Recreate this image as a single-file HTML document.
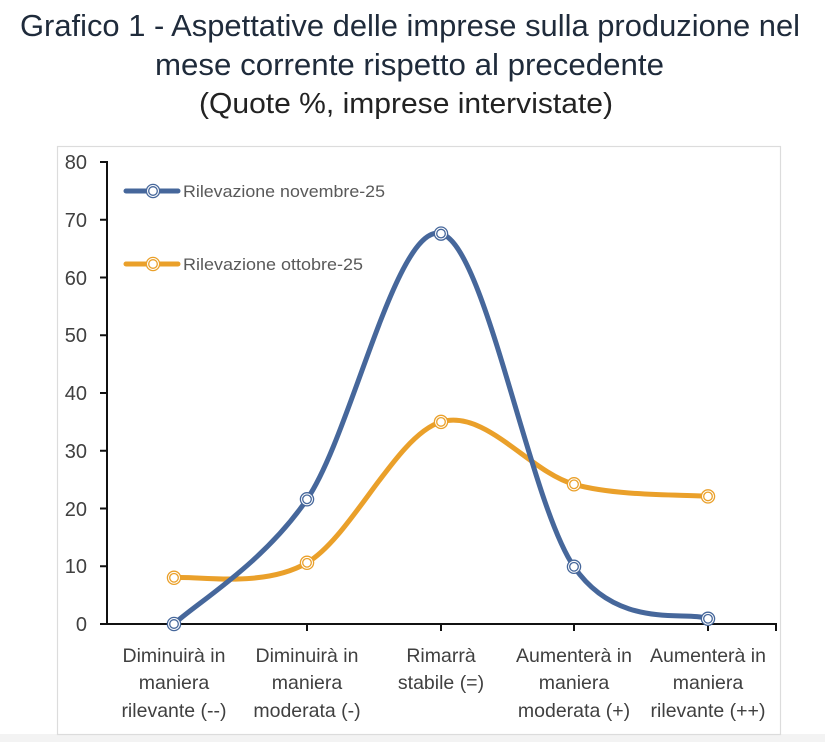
<!DOCTYPE html>
<html>
<head>
<meta charset="utf-8">
<style>
  html, body { margin:0; padding:0; background:#ffffff; }
  svg { display:block; }
  text { font-family: "Liberation Sans", sans-serif; }
</style>
</head>
<body>
<svg width="825" height="742" viewBox="0 0 825 742" xmlns="http://www.w3.org/2000/svg">
  <rect x="0" y="0" width="825" height="742" fill="#ffffff"/>
  <rect x="0" y="734" width="825" height="8" fill="#f3f3f3"/>

  <!-- Title -->
  <text x="20" y="36" font-size="31" fill="#1f2b3b" textLength="780" lengthAdjust="spacingAndGlyphs">Grafico 1 - Aspettative delle imprese sulla produzione nel</text>
  <text x="155" y="75" font-size="31" fill="#1f2b3b" textLength="509" lengthAdjust="spacingAndGlyphs">mese corrente rispetto al precedente</text>
  <text x="199" y="113" font-size="29" fill="#222222" textLength="414" lengthAdjust="spacingAndGlyphs">(Quote %, imprese intervistate)</text>

  <!-- Chart frame -->
  <rect x="57.5" y="146.5" width="723" height="588" fill="#ffffff" stroke="#dcdcdc" stroke-width="1.2"/>

  <!-- Y axis labels -->
  <g font-size="20" fill="#404040" text-anchor="end">
    <text x="87" y="169">80</text>
    <text x="87" y="227">70</text>
    <text x="87" y="285">60</text>
    <text x="87" y="342">50</text>
    <text x="87" y="400">40</text>
    <text x="87" y="458">30</text>
    <text x="87" y="516">20</text>
    <text x="87" y="573">10</text>
    <text x="87" y="631">0</text>
  </g>

  <!-- Axes -->
  <g stroke="#111111" stroke-width="2" fill="none">
    <line x1="107" y1="161" x2="107" y2="625"/>
    <line x1="100" y1="162" x2="107" y2="162"/>
    <line x1="100" y1="219.75" x2="107" y2="219.75"/>
    <line x1="100" y1="277.5" x2="107" y2="277.5"/>
    <line x1="100" y1="335.25" x2="107" y2="335.25"/>
    <line x1="100" y1="393" x2="107" y2="393"/>
    <line x1="100" y1="450.75" x2="107" y2="450.75"/>
    <line x1="100" y1="508.5" x2="107" y2="508.5"/>
    <line x1="100" y1="566.25" x2="107" y2="566.25"/>
    <line x1="100" y1="624" x2="776" y2="624"/>
    <line x1="174" y1="624" x2="174" y2="631"/>
    <line x1="307" y1="624" x2="307" y2="631"/>
    <line x1="441" y1="624" x2="441" y2="631"/>
    <line x1="574" y1="624" x2="574" y2="631"/>
    <line x1="708" y1="624" x2="708" y2="631"/>
    <line x1="776" y1="623" x2="776" y2="631"/>
  </g>

  <!-- X labels -->
  <g font-size="19.5" fill="#404040" text-anchor="middle">
    <text x="174" y="662">Diminuirà in</text>
    <text x="174" y="689">maniera</text>
    <text x="174" y="717">rilevante (--)</text>

    <text x="307" y="662">Diminuirà in</text>
    <text x="307" y="689">maniera</text>
    <text x="307" y="717">moderata (-)</text>

    <text x="441" y="662">Rimarrà</text>
    <text x="441" y="689">stabile (=)</text>

    <text x="574" y="662">Aumenterà in</text>
    <text x="574" y="689">maniera</text>
    <text x="574" y="717">moderata (+)</text>

    <text x="708" y="662">Aumenterà in</text>
    <text x="708" y="689">maniera</text>
    <text x="708" y="717">rilevante (++)</text>
  </g>

  <!-- Series: ottobre (orange) -->
  <path d="M174,577.8 C196.2,575.3 262.5,588.8 307,562.8 C351.5,536.8 396.5,435.0 441,421.9 C485.5,408.8 529.5,471.9 574,484.3 C618.5,496.7 685.7,494.4 708,496.4"
        fill="none" stroke="#eaa02a" stroke-width="5" stroke-linecap="round" stroke-linejoin="round"/>
  <!-- Series: novembre (blue) -->
  <path d="M174,624 C196.2,603.2 262.5,564.4 307,499.3 C351.5,434.2 396.5,222.35 441,233.6 C485.5,244.85 529.5,502.6 574,566.8 C618.5,631.0 685.7,610.1 708,618.8"
        fill="none" stroke="#46679b" stroke-width="5" stroke-linecap="round" stroke-linejoin="round"/>

  <!-- Markers orange -->
  <g fill="#ffffff" stroke="#eaa02a" stroke-width="1.3">
    <g><circle cx="174" cy="577.8" r="6.6"/><circle cx="174" cy="577.8" r="4.3"/></g>
    <g><circle cx="307" cy="562.8" r="6.6"/><circle cx="307" cy="562.8" r="4.3"/></g>
    <g><circle cx="441" cy="421.9" r="6.6"/><circle cx="441" cy="421.9" r="4.3"/></g>
    <g><circle cx="574" cy="484.3" r="6.6"/><circle cx="574" cy="484.3" r="4.3"/></g>
    <g><circle cx="708" cy="496.4" r="6.6"/><circle cx="708" cy="496.4" r="4.3"/></g>
  </g>
  <!-- Markers blue -->
  <g fill="#ffffff" stroke="#46679b" stroke-width="1.3">
    <g><circle cx="174" cy="624" r="6.6"/><circle cx="174" cy="624" r="4.3"/></g>
    <g><circle cx="307" cy="499.3" r="6.6"/><circle cx="307" cy="499.3" r="4.3"/></g>
    <g><circle cx="441" cy="233.6" r="6.6"/><circle cx="441" cy="233.6" r="4.3"/></g>
    <g><circle cx="574" cy="566.8" r="6.6"/><circle cx="574" cy="566.8" r="4.3"/></g>
    <g><circle cx="708" cy="618.8" r="6.6"/><circle cx="708" cy="618.8" r="4.3"/></g>
  </g>

  <!-- Legend -->
  <line x1="126" y1="191" x2="178" y2="191" stroke="#46679b" stroke-width="5" stroke-linecap="round"/>
  <circle cx="153" cy="191" r="6.6" fill="#ffffff" stroke="#46679b" stroke-width="1.3"/>
  <circle cx="153" cy="191" r="4.3" fill="#ffffff" stroke="#46679b" stroke-width="1.3"/>
  <text x="183" y="197" font-size="17" fill="#595959" textLength="202" lengthAdjust="spacingAndGlyphs">Rilevazione novembre-25</text>

  <line x1="126" y1="264" x2="178" y2="264" stroke="#eaa02a" stroke-width="5" stroke-linecap="round"/>
  <circle cx="153" cy="264" r="6.6" fill="#ffffff" stroke="#eaa02a" stroke-width="1.3"/>
  <circle cx="153" cy="264" r="4.3" fill="#ffffff" stroke="#eaa02a" stroke-width="1.3"/>
  <text x="183" y="270" font-size="17" fill="#595959" textLength="180" lengthAdjust="spacingAndGlyphs">Rilevazione ottobre-25</text>
</svg>
</body>
</html>
